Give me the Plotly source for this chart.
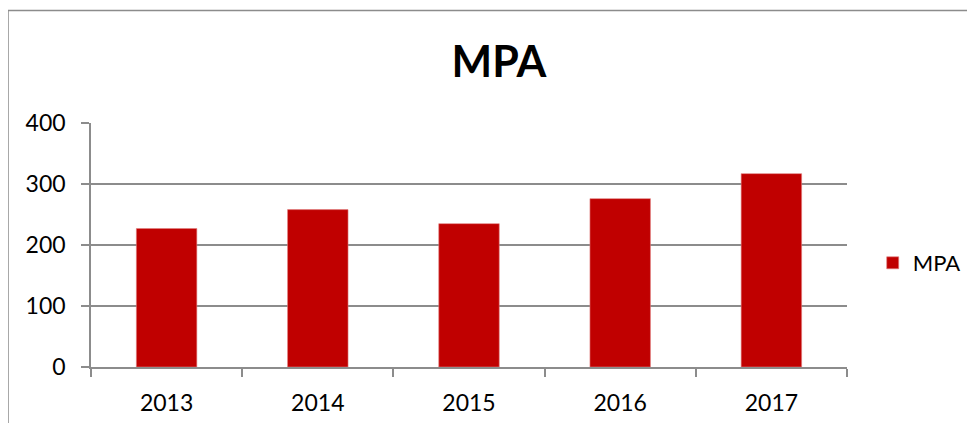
import plotly.graph_objects as go

years = ["2013", "2014", "2015", "2016", "2017"]
mpa_values = [227, 258, 235, 276, 317]
y_ticks = [0, 100, 200, 300, 400]

FONT = "Lato"
GRID = "#8c8c8c"
OFF = 8  # page body margin offset

fig = go.Figure()
fig.add_trace(go.Bar(
    x=years, y=mpa_values, name="MPA",
    marker=dict(color="#C00000", line=dict(color="#e08080", width=0.6)),
))

L, R, T, B = 91 - OFF, 975 - 847 + OFF, 123 - OFF, 423 - 367 + OFF
W, H = 975 - L - R, 423 - T - B
X0, Y0 = 91, 367  # reference pixel positions of plot origin

fig.update_layout(
    width=975, height=423,
    margin=dict(l=L, r=R, t=T, b=B, pad=0),
    paper_bgcolor="white", plot_bgcolor="white",
    bargap=0.6,
    showlegend=True,
    title=dict(text="<b>MPA</b>", font=dict(family=FONT, size=43, color="black"),
               x=(499 - X0) / W, xref="paper", xanchor="center",
               y=1 - (62 - OFF) / 423, yref="container", yanchor="middle"),
    legend=dict(x=1.034, y=(Y0 - 263) / H, xanchor="left", yanchor="middle",
                font=dict(family=FONT, size=22, color="black"),
                bgcolor="rgba(0,0,0,0)"),
    font=dict(family=FONT, color="black"),
    xaxis=dict(
        type="category", showline=True, linecolor=GRID, linewidth=1.5,
        ticks="outside", tickson="boundaries", ticklen=8, tickcolor=GRID, tickwidth=1.5,
        showgrid=False, tickfont=dict(family=FONT, size=23, color="black"),
        ticklabelstandoff=15,
    ),
    yaxis=dict(
        range=[0, 400], tickvals=y_ticks, showline=True, linecolor=GRID, linewidth=1.5,
        ticks="outside", ticklen=8, tickcolor=GRID, tickwidth=1.5,
        showgrid=True, gridcolor=GRID, gridwidth=1.5, zeroline=False,
        tickfont=dict(family=FONT, size=23, color="black"),
        ticklabelstandoff=11,
    ),
    shapes=[dict(type="rect", xref="paper", yref="paper",
                 x0=(8 - X0) / W, x1=1.4, y0=-0.6, y1=(Y0 - 10.5) / H,
                 line=dict(color="#8c8c8c", width=1.5), fillcolor="rgba(0,0,0,0)",
                 layer="below")],
)

fig.write_html("out.html")
